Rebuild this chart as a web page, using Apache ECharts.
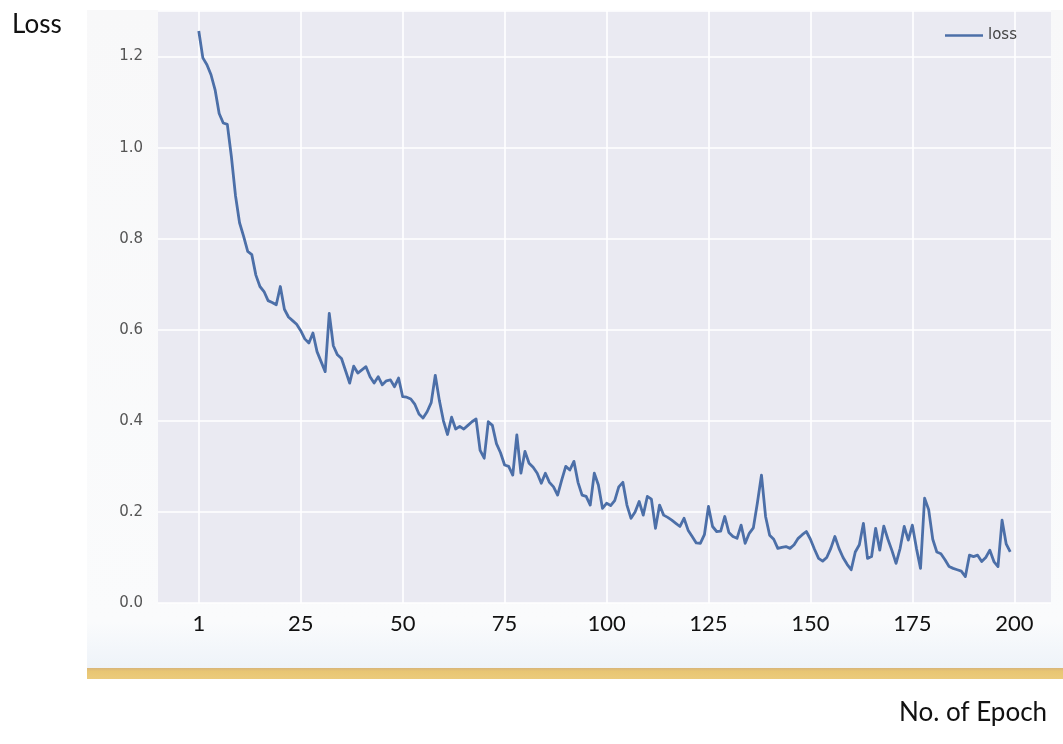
<!DOCTYPE html>
<html>
<head>
<meta charset="utf-8">
<style>
  html, body { margin: 0; padding: 0; background: #ffffff; }
  #chart { width: 1063px; height: 744px; }
</style>
<script src="https://cdn.jsdelivr.net/npm/echarts@6/dist/echarts.min.js"></script>
</head>
<body>
<div id="chart"></div>
<script>
// Training loss per epoch (200 epochs, stored in order)
const lossValues = [
  1.256, 1.197, 1.182, 1.160, 1.127, 1.075, 1.054, 1.051, 0.980, 0.895,
  0.835, 0.805, 0.772, 0.765, 0.720, 0.695, 0.684, 0.664, 0.660, 0.655,
  0.695, 0.645, 0.628, 0.620, 0.612, 0.598, 0.580, 0.571, 0.593, 0.552,
  0.530, 0.508, 0.636, 0.565, 0.545, 0.537, 0.510, 0.483, 0.520, 0.505,
  0.512, 0.519, 0.497, 0.483, 0.497, 0.479, 0.488, 0.490, 0.475, 0.494,
  0.453, 0.452, 0.448, 0.436, 0.415, 0.406, 0.420, 0.440, 0.500, 0.445,
  0.400, 0.370, 0.408, 0.382, 0.388, 0.382, 0.390, 0.398, 0.404, 0.335,
  0.318, 0.398, 0.390, 0.350, 0.330, 0.303, 0.300, 0.281, 0.369, 0.285,
  0.333, 0.307, 0.298, 0.285, 0.263, 0.285, 0.265, 0.255, 0.237, 0.270,
  0.300, 0.292, 0.311, 0.265, 0.237, 0.234, 0.215, 0.285, 0.259, 0.208,
  0.219, 0.214, 0.225, 0.255, 0.265, 0.215, 0.186, 0.200, 0.223, 0.193,
  0.234, 0.228, 0.164, 0.215, 0.193, 0.188, 0.182, 0.175, 0.168, 0.186,
  0.160, 0.146, 0.132, 0.131, 0.150, 0.212, 0.168, 0.157, 0.158, 0.190,
  0.155, 0.146, 0.142, 0.171, 0.131, 0.153, 0.165, 0.220, 0.281, 0.190,
  0.149, 0.140, 0.120, 0.122, 0.124, 0.120, 0.128, 0.142, 0.150, 0.157,
  0.140, 0.118, 0.098, 0.092, 0.100, 0.120, 0.146, 0.120, 0.100, 0.085,
  0.073, 0.112, 0.128, 0.175, 0.098, 0.102, 0.164, 0.116, 0.169, 0.140,
  0.115, 0.087, 0.120, 0.168, 0.138, 0.171, 0.120, 0.076, 0.230, 0.205,
  0.140, 0.112, 0.108, 0.095, 0.080, 0.076, 0.073, 0.070, 0.058, 0.105,
  0.102, 0.105, 0.091, 0.100, 0.116, 0.091, 0.080, 0.182, 0.130, 0.112
];

// x-axis tick positions (epoch index, first epoch at 0) and their labels
const xTickValues = [0, 25, 50, 75, 100, 125, 150, 175, 200];
const xTickLabels = ['1', '25', '50', '75', '100', '125', '150', '175', '200'];

const seriesName = 'loss';
const yAxisTitle = 'Loss';
const xAxisTitle = 'No. of Epoch';

const lineData = lossValues.map((v, i) => [i, v]);
const labelFor = {};
xTickValues.forEach((v, k) => { labelFor[v] = xTickLabels[k]; });

const chart = echarts.init(document.getElementById('chart'), null, { renderer: 'canvas' });

chart.setOption({
  backgroundColor: '#ffffff',
  animation: false,
  graphic: [
    {
      type: 'rect', z: -10, silent: true,
      shape: { x: 87, y: 10, width: 976, height: 658 },
      style: {
        fill: {
          type: 'linear', x: 0, y: 0, x2: 0, y2: 1,
          colorStops: [
            { offset: 0, color: '#f8f8f9' },
            { offset: 0.93, color: '#fafbfc' },
            { offset: 1, color: '#eef3f9' }
          ]
        }
      }
    },
    {
      type: 'rect', z: -10, silent: true,
      shape: { x: 87, y: 668, width: 976, height: 11 },
      style: {
        fill: {
          type: 'linear', x: 0, y: 0, x2: 0, y2: 1,
          colorStops: [
            { offset: 0, color: '#d8b57a' },
            { offset: 0.3, color: '#e8c673' },
            { offset: 1, color: '#ebcb7c' }
          ]
        }
      }
    },
    {
      type: 'text', left: 12, top: 12,
      style: { text: yAxisTitle, font: '26px Lato', fill: '#111111' }
    },
    {
      type: 'text', left: 899, top: 700,
      style: { text: xAxisTitle, font: '26px Lato', fill: '#111111' }
    }
  ],
  legend: {
    show: true,
    left: 940,
    top: 23,
    icon: 'rect',
    itemWidth: 38,
    itemHeight: 2.5,
    itemGap: 10,
    textStyle: { fontFamily: 'DejaVu Sans', fontSize: 15, color: '#444444' },
    data: [seriesName]
  },
  grid: {
    left: 158,
    right: 12,
    top: 11,
    bottom: 141,
    show: true,
    backgroundColor: '#eaeaf2',
    borderWidth: 0,
    containLabel: false
  },
  xAxis: {
    type: 'value',
    min: -10,
    max: 209,
    axisLine: { show: false },
    axisTick: { show: false, customValues: xTickValues },
    axisLabel: {
      customValues: xTickValues,
      margin: 10,
      fontFamily: 'Lato',
      fontSize: 22,
      color: '#111111',
      formatter: v => labelFor[v] !== undefined ? labelFor[v] : ''
    },
    splitLine: { show: true, lineStyle: { color: '#ffffff', width: 1.6 } }
  },
  yAxis: {
    type: 'value',
    min: 0,
    max: 1.3,
    interval: 0.2,
    axisLine: { show: false },
    axisTick: { show: false },
    axisLabel: {
      margin: 15,
      fontFamily: 'DejaVu Sans',
      fontSize: 15,
      color: '#555555',
      formatter: v => v.toFixed(1),
      showMaxLabel: false
    },
    splitLine: { show: true, lineStyle: { color: '#ffffff', width: 1.6 } }
  },
  series: [
    {
      name: seriesName,
      type: 'line',
      data: lineData,
      showSymbol: false,
      symbol: 'none',
      color: '#4c6fa8',
      lineStyle: { color: '#4c6fa8', width: 2.8, join: 'round' },
      emphasis: { disabled: true }
    }
  ]
});
</script>
</body>
</html>
